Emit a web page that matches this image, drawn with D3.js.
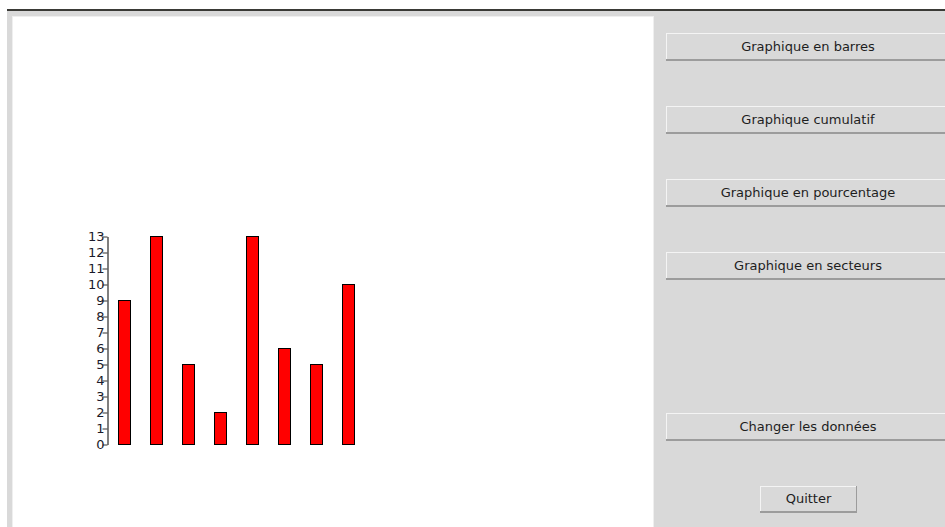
<!DOCTYPE html>
<html>
<head>
<meta charset="utf-8">
<script src="https://cdn.jsdelivr.net/npm/d3@7"></script>
<style>
  html, body { margin: 0; padding: 0; background: #ffffff; overflow: hidden; }
  svg { display: block; }
  text { font-family: "DejaVu Sans", sans-serif; }
</style>
</head>
<body>
<script>
// ---- data ----
const categories = ["1", "2", "3", "4", "5", "6", "7", "8"];
const values = [9, 13, 5, 2, 13, 6, 5, 10];
const tickLabels = [0, 1, 2, 3, 4, 5, 6, 7, 8, 9, 10, 11, 12, 13];
const buttonLabels = ["Graphique en barres", "Graphique cumulatif", "Graphique en pourcentage", "Graphique en secteurs", "Changer les données"];
const buttonTops = [33, 106, 179, 252, 413];

const W = 945, H = 527;
const svg = d3.select("body").append("svg").attr("width", W).attr("height", H);

// window frame
svg.append("rect").attr("x", 7).attr("y", 9).attr("width", W - 7).attr("height", 2).attr("fill", "#3a3a36");
svg.append("rect").attr("x", 7).attr("y", 11).attr("width", W - 7).attr("height", H - 11).attr("fill", "#d9d9d9");
svg.append("rect").attr("x", 12).attr("y", 16).attr("width", 642).attr("height", H - 16).attr("fill", "#efefef");
svg.append("rect").attr("x", 13).attr("y", 17).attr("width", 640).attr("height", H - 17).attr("fill", "#ffffff");

// chart
const x = d3.scaleBand().domain(categories).range([108, 364]).paddingInner(0.625).paddingOuter(0.3125);
const y = d3.scaleLinear().domain([0, 13]).range([444, 236]);

const g = svg.append("g");
g.selectAll("rect.bar").data(values).join("rect")
  .attr("class", "bar")
  .attr("x", (d, i) => Math.round(x(categories[i])) + 0.5)
  .attr("y", d => Math.round(y(d)) + 0.5)
  .attr("width", Math.round(x.bandwidth()))
  .attr("height", d => Math.round(y(0)) - Math.round(y(d)))
  .attr("fill", "#ff0000")
  .attr("stroke", "#000000")
  .attr("stroke-width", 1);

const axis = d3.axisLeft(y).tickValues(tickLabels).tickFormat(d3.format("d")).tickSize(5).tickSizeOuter(0).tickPadding(-2);
const ag = svg.append("g").attr("transform", "translate(107.5,0.5)").call(axis);
ag.select(".domain").attr("stroke", "#555555").attr("stroke-width", 1.5);
ag.selectAll(".tick line").attr("stroke", "#333333");
ag.selectAll(".tick text").attr("fill", "#1a1a2a").style("font-size", "13px").style("font-family", "'DejaVu Sans', sans-serif");

// buttons
function button(x0, y0, w, h, label, cx) {
  const b = svg.append("g");
  b.append("rect").attr("x", x0).attr("y", y0).attr("width", w).attr("height", h).attr("fill", "#d9d9d9");
  b.append("rect").attr("x", x0).attr("y", y0).attr("width", w).attr("height", 1).attr("fill", "#f4f4f4");
  b.append("rect").attr("x", x0).attr("y", y0).attr("width", 1).attr("height", h).attr("fill", "#f4f4f4");
  b.append("rect").attr("x", x0).attr("y", y0 + h - 2).attr("width", w).attr("height", 2).attr("fill", "#9c9c9c");
  b.append("rect").attr("x", x0 + w - 1).attr("y", y0).attr("width", 1).attr("height", h).attr("fill", "#9c9c9c");
  b.append("text").attr("x", cx).attr("y", y0 + h / 2 - 1).attr("text-anchor", "middle")
    .attr("dominant-baseline", "central").attr("fill", "#1e1e1e").style("font-size", "13px").text(label);
}
buttonLabels.forEach((lab, i) => button(666, buttonTops[i], 290, 28, lab, 808));
button(760, 486, 97, 27, "Quitter", 808.5);
</script>
</body>
</html>
